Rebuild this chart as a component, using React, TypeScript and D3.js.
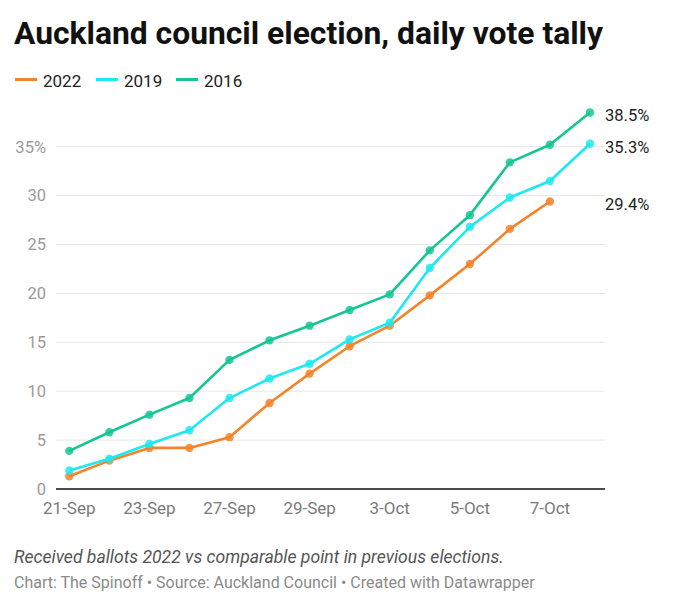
import React from "react";
import * as d3 from "d3";

const categories = ["21-Sep", "22-Sep", "23-Sep", "26-Sep", "27-Sep", "28-Sep", "29-Sep", "30-Sep", "3-Oct", "4-Oct", "5-Oct", "6-Oct", "7-Oct", "8-Oct"];
const shownLabels = ["21-Sep", "23-Sep", "27-Sep", "29-Sep", "3-Oct", "5-Oct", "7-Oct"];
const values2022: (number | null)[] = [1.3, 2.9, 4.2, 4.2, 5.3, 8.8, 11.8, 14.6, 16.7, 19.8, 23.0, 26.6, 29.4, null];
const values2019: (number | null)[] = [1.9, 3.1, 4.6, 6.0, 9.3, 11.3, 12.8, 15.3, 17.0, 22.6, 26.8, 29.8, 31.5, 35.3];
const values2016: (number | null)[] = [3.9, 5.8, 7.6, 9.3, 13.2, 15.2, 16.7, 18.3, 19.9, 24.4, 28.0, 33.4, 35.2, 38.5];
const yTicks = [0, 5, 10, 15, 20, 25, 30, 35];
const seriesNames = ["2022", "2019", "2016"];
const seriesColors = ["#f5832a", "#1ee8f0", "#15c594"];
const endLabels = ["29.4%", "35.3%", "38.5%"];

const W = 680;
const H = 608;
const FONT = "Roboto, 'Noto Sans', sans-serif";

export default function App() {
  const x = d3.scalePoint<string>().domain(categories).range([69.3, 590]);
  const y = d3.scaleLinear().domain([0, 35]).range([489, 146.7]);
  const series = [values2022, values2019, values2016];
  const line = d3
    .line<number | null>()
    .defined((d) => d != null)
    .x((_, i) => x(categories[i]) as number)
    .y((d) => y(d as number));

  const legendX = [15, 96, 176];
  const gridL = 56;
  const gridR = 605;
  const labelY = [204, 147, 115];

  return (
    <svg width={W} height={H} style={{ position: "absolute", left: 0, top: 0, background: "#fff" }} fontFamily={FONT}>
      <rect width={W} height={H} fill="#fff" />
      <text x={14} y={43.5} fontSize={32} fontWeight={700} fill="#111" textLength={589} lengthAdjust="spacingAndGlyphs">
        Auckland council election, daily vote tally
      </text>
      {seriesNames.map((n, i) => (
        <g key={n}>
          <line x1={legendX[i]} x2={legendX[i] + 22} y1={79.5} y2={79.5} stroke={seriesColors[i]} strokeWidth={3} />
          <text x={legendX[i] + 28} y={87} fontSize={17} fill="#222">
            {n}
          </text>
        </g>
      ))}
      {yTicks.map((t) => (
        <g key={t}>
          {t > 0 && <line x1={gridL} x2={gridR} y1={y(t)} y2={y(t)} stroke="#e6e6e6" strokeWidth={1} />}
          <text x={46} y={y(t) + 5.8} fontSize={16.5} fill="#9a9a9a" textAnchor="end">
            {t === 35 ? "35%" : t}
          </text>
        </g>
      ))}
      <line x1={gridL} x2={gridR} y1={y(0)} y2={y(0)} stroke="#111" strokeWidth={1.5} />
      {shownLabels.map((c) => (
        <text key={c} x={x(c)} y={514} fontSize={17} fill="#7a7a7a" textAnchor="middle">
          {c}
        </text>
      ))}
      {series.map((s, si) => (
        <g key={si}>
          <path d={line(s) || ""} fill="none" stroke={seriesColors[si]} strokeWidth={2.6} strokeLinejoin="round" />
          {s.map((v, i) =>
            v == null ? null : (
              <circle key={i} cx={x(categories[i])} cy={y(v)} r={4.2} fill={seriesColors[si]} opacity={0.85} />
            )
          )}
        </g>
      ))}
      {series.map((s, si) => (
        <text key={si} x={605} y={labelY[si] + 5.8} fontSize={16.5} fill="#222">
          {endLabels[si]}
        </text>
      ))}
      <text x={14} y={562.5} fontSize={17.6} fontStyle="italic" fill="#555">
        Received ballots 2022 vs comparable point in previous elections.
      </text>
      <text x={14} y={588} fontSize={16} fill="#8a8a8a">
        Chart: The Spinoff • Source: Auckland Council • Created with Datawrapper
      </text>
    </svg>
  );
}
